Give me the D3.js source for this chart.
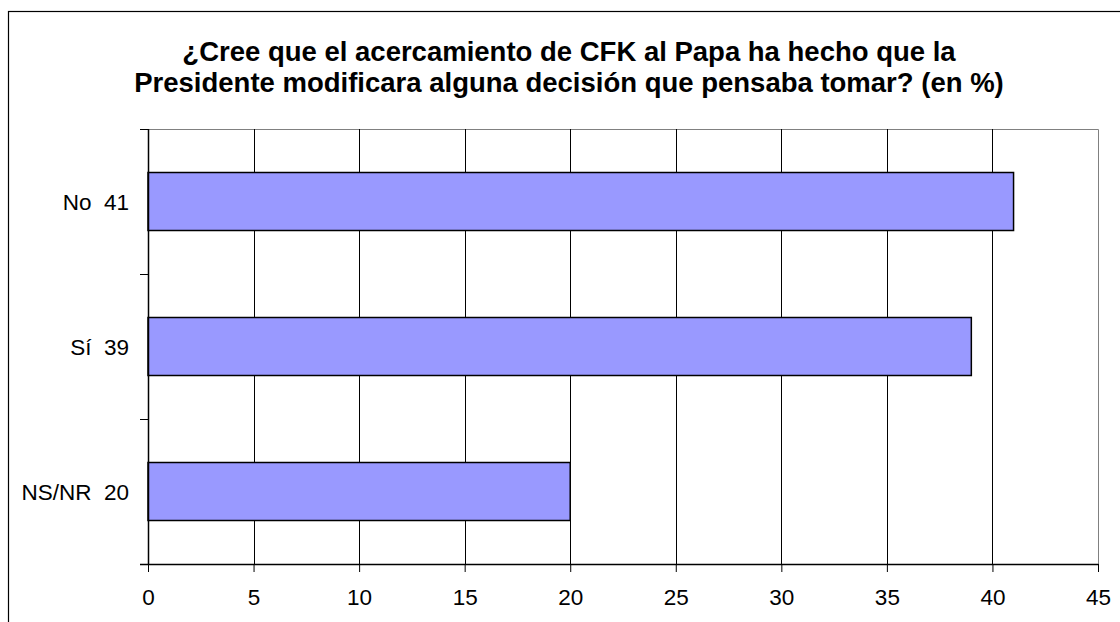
<!DOCTYPE html>
<html>
<head>
<meta charset="utf-8">
<script src="https://cdn.jsdelivr.net/npm/d3@7"></script>
<style>
  body { margin: 0; background: #fff; }
  text { font-family: Arial, "Liberation Sans", sans-serif; }
</style>
</head>
<body>
<div id="my_dataviz"></div>
<script>
  // data
  const categories = ["No", "Sí", "NS/NR"];
  const values = [41, 39, 20];
  const xTicks = [0, 5, 10, 15, 20, 25, 30, 35, 40, 45];
  const titleLines = [
    "¿Cree que el acercamiento de CFK al Papa ha hecho que la",
    "Presidente modificara alguna decisión que pensaba tomar? (en %)"
  ];

  const data = categories.map((c, i) => ({ cat: c, value: values[i] }));

  // set the dimensions and margins of the graph
  const W = 1120, H = 622;
  const margin = {top: 129, right: 22, bottom: 58, left: 148},
      width = W - margin.left - margin.right,
      height = H - margin.top - margin.bottom;

  const root = d3.select("#my_dataviz")
    .append("svg")
      .attr("width", W)
      .attr("height", H);

  // outer frame (runs off the right and bottom edge)
  root.append("rect")
    .attr("x", 8.5).attr("y", 11.5)
    .attr("width", W + 20).attr("height", H + 20)
    .attr("fill", "none")
    .attr("stroke", "#000")
    .attr("stroke-width", 1.2);

  // title
  root.append("text")
    .attr("x", 569)
    .attr("text-anchor", "middle")
    .style("font-size", "27.5px")
    .style("font-weight", "bold")
    .selectAll("tspan")
    .data(titleLines)
    .enter().append("tspan")
      .attr("x", 569)
      .attr("y", (d, i) => 61 + i * 31)
      .text(d => d);

  const svg = root.append("g")
    .attr("transform", `translate(${margin.left},${margin.top})`);

  // X scale
  const x = d3.scaleLinear()
    .domain([0, 45])
    .range([0, width]);

  // Y scale
  const y = d3.scaleBand()
    .domain(categories)
    .range([0, height])
    .paddingInner(0.6)
    .paddingOuter(0.3);

  // plot area border (top + right, grey)
  svg.append("path")
    .attr("d", `M0,0.5H${width + 0.5}V${height}`)
    .attr("fill", "none")
    .attr("stroke", "#808080")
    .attr("stroke-width", 1);

  // gridlines
  svg.append("g")
    .selectAll("line")
    .data(xTicks.slice(1, -1))
    .enter().append("line")
      .attr("x1", d => Math.round(x(d)) + 0.5)
      .attr("x2", d => Math.round(x(d)) + 0.5)
      .attr("y1", 0)
      .attr("y2", height)
      .attr("stroke", "#000")
      .attr("stroke-width", 1);

  // bars
  svg.selectAll("rect.bar")
    .data(data)
    .enter().append("rect")
      .attr("class", "bar")
      .attr("x", x(0))
      .attr("y", d => y(d.cat))
      .attr("width", d => x(d.value) - x(0))
      .attr("height", y.bandwidth())
      .attr("fill", "#9999ff")
      .attr("stroke", "#000")
      .attr("stroke-width", 1.5);

  // X axis
  const xAxis = svg.append("g")
    .attr("transform", `translate(0, ${height})`)
    .call(d3.axisBottom(x).tickValues(xTicks).tickSize(8).tickPadding(17).tickSizeOuter(0));
  xAxis.select(".domain").remove();
  xAxis.append("line")
    .attr("x1", -8).attr("x2", width + 0.5)
    .attr("y1", 0.5).attr("y2", 0.5)
    .attr("stroke", "#000")
    .attr("stroke-width", 1.5);
  xAxis.selectAll(".tick line").attr("stroke", "#000");
  xAxis.selectAll("text")
    .style("font-size", "22.5px")
    .style("font-family", "Arial, 'Liberation Sans', sans-serif")
    .attr("fill", "#000");

  // Y axis: line + ticks at category boundaries
  const boundaries = [0].concat(categories.map(c => y(c) + y.bandwidth() / 2 + y.step() / 2));
  svg.append("line")
    .attr("x1", 0.5).attr("x2", 0.5)
    .attr("y1", 0).attr("y2", height)
    .attr("stroke", "#000")
    .attr("stroke-width", 1.5);
  svg.append("g")
    .selectAll("line")
    .data(boundaries)
    .enter().append("line")
      .attr("x1", -8).attr("x2", 0)
      .attr("y1", d => Math.round(d) + 0.5)
      .attr("y2", d => Math.round(d) + 0.5)
      .attr("stroke", "#000");

  // category labels
  svg.append("g")
    .selectAll("text")
    .data(data)
    .enter().append("text")
      .attr("x", -19)
      .attr("y", d => y(d.cat) + y.bandwidth() / 2)
      .attr("dy", "0.36em")
      .attr("text-anchor", "end")
      .style("font-size", "22.5px")
      .attr("fill", "#000")
      .text(d => d.cat + "\u00a0\u00a0" + d.value);
</script>
</body>
</html>
